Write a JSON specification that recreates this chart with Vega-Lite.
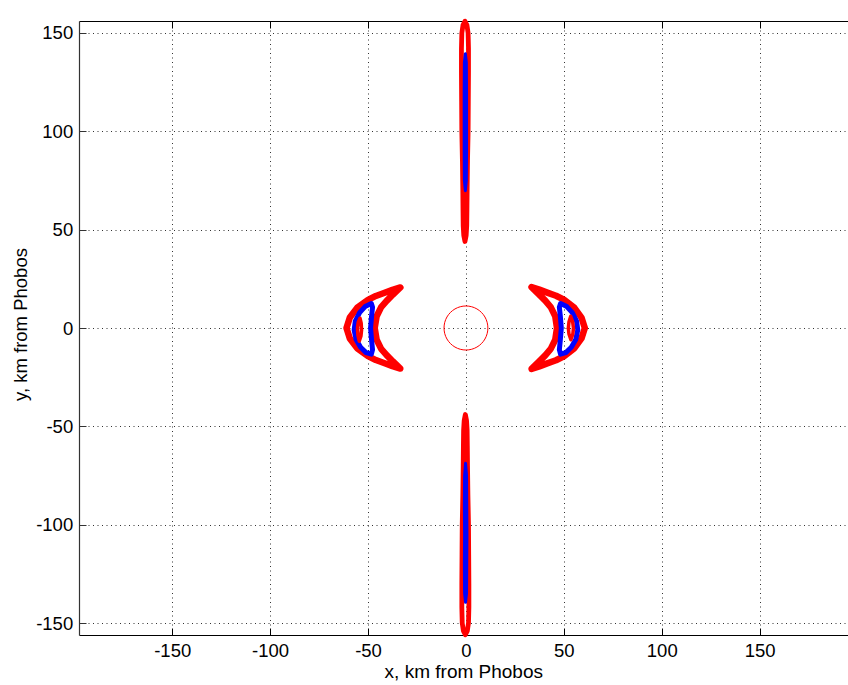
{
  "$schema": "https://vega.github.io/schema/vega-lite/v6.json",
  "width": 769,
  "height": 614,
  "autosize": {"type": "none"},
  "padding": {"left": 79, "top": 21, "right": 0, "bottom": 50},
  "background": "white",
  "config": {"view": {"stroke": null}, "font": "Liberation Sans"},
  "datasets": {
    "loops": [
      {"kind": "red-crescent", "loop": "redL", "i": 0, "x": -33.5, "y": 20.6},
      {"kind": "red-crescent", "loop": "redL", "i": 1, "x": -37.5, "y": 19.4},
      {"kind": "red-crescent", "loop": "redL", "i": 2, "x": -41.5, "y": 17.9},
      {"kind": "red-crescent", "loop": "redL", "i": 3, "x": -46, "y": 16.3},
      {"kind": "red-crescent", "loop": "redL", "i": 4, "x": -50, "y": 14.3},
      {"kind": "red-crescent", "loop": "redL", "i": 5, "x": -55.5, "y": 10.3},
      {"kind": "red-crescent", "loop": "redL", "i": 6, "x": -59.3, "y": 5.3},
      {"kind": "red-crescent", "loop": "redL", "i": 7, "x": -61, "y": 0},
      {"kind": "red-crescent", "loop": "redL", "i": 8, "x": -59.3, "y": -5.3},
      {"kind": "red-crescent", "loop": "redL", "i": 9, "x": -55.5, "y": -10.3},
      {"kind": "red-crescent", "loop": "redL", "i": 10, "x": -50, "y": -14.3},
      {"kind": "red-crescent", "loop": "redL", "i": 11, "x": -46, "y": -16.3},
      {"kind": "red-crescent", "loop": "redL", "i": 12, "x": -41.5, "y": -17.9},
      {"kind": "red-crescent", "loop": "redL", "i": 13, "x": -37.5, "y": -19.4},
      {"kind": "red-crescent", "loop": "redL", "i": 14, "x": -33.5, "y": -20.6},
      {"kind": "red-crescent", "loop": "redL", "i": 15, "x": -37.3, "y": -17},
      {"kind": "red-crescent", "loop": "redL", "i": 16, "x": -40.5, "y": -13.8},
      {"kind": "red-crescent", "loop": "redL", "i": 17, "x": -43.3, "y": -10.6},
      {"kind": "red-crescent", "loop": "redL", "i": 18, "x": -45.6, "y": -6},
      {"kind": "red-crescent", "loop": "redL", "i": 19, "x": -46.6, "y": 0},
      {"kind": "red-crescent", "loop": "redL", "i": 20, "x": -45.6, "y": 6},
      {"kind": "red-crescent", "loop": "redL", "i": 21, "x": -43.3, "y": 10.6},
      {"kind": "red-crescent", "loop": "redL", "i": 22, "x": -40.5, "y": 13.8},
      {"kind": "red-crescent", "loop": "redL", "i": 23, "x": -37.3, "y": 17},
      {"kind": "red-crescent", "loop": "redR", "i": 0, "x": 33.5, "y": 20.8},
      {"kind": "red-crescent", "loop": "redR", "i": 1, "x": 37.5, "y": 19.5},
      {"kind": "red-crescent", "loop": "redR", "i": 2, "x": 41.5, "y": 18},
      {"kind": "red-crescent", "loop": "redR", "i": 3, "x": 46, "y": 16.4},
      {"kind": "red-crescent", "loop": "redR", "i": 4, "x": 50, "y": 14.4},
      {"kind": "red-crescent", "loop": "redR", "i": 5, "x": 55.3, "y": 10.4},
      {"kind": "red-crescent", "loop": "redR", "i": 6, "x": 59, "y": 5.3},
      {"kind": "red-crescent", "loop": "redR", "i": 7, "x": 60.7, "y": 0},
      {"kind": "red-crescent", "loop": "redR", "i": 8, "x": 59, "y": -5.3},
      {"kind": "red-crescent", "loop": "redR", "i": 9, "x": 55.3, "y": -10.4},
      {"kind": "red-crescent", "loop": "redR", "i": 10, "x": 50, "y": -14.4},
      {"kind": "red-crescent", "loop": "redR", "i": 11, "x": 46, "y": -16.4},
      {"kind": "red-crescent", "loop": "redR", "i": 12, "x": 41.5, "y": -18},
      {"kind": "red-crescent", "loop": "redR", "i": 13, "x": 37.5, "y": -19.5},
      {"kind": "red-crescent", "loop": "redR", "i": 14, "x": 33.5, "y": -20.8},
      {"kind": "red-crescent", "loop": "redR", "i": 15, "x": 37.3, "y": -17.1},
      {"kind": "red-crescent", "loop": "redR", "i": 16, "x": 40.5, "y": -13.9},
      {"kind": "red-crescent", "loop": "redR", "i": 17, "x": 43.3, "y": -10.6},
      {"kind": "red-crescent", "loop": "redR", "i": 18, "x": 45.6, "y": -6},
      {"kind": "red-crescent", "loop": "redR", "i": 19, "x": 46.5, "y": 0},
      {"kind": "red-crescent", "loop": "redR", "i": 20, "x": 45.6, "y": 6},
      {"kind": "red-crescent", "loop": "redR", "i": 21, "x": 43.3, "y": 10.6},
      {"kind": "red-crescent", "loop": "redR", "i": 22, "x": 40.5, "y": 13.9},
      {"kind": "red-crescent", "loop": "redR", "i": 23, "x": 37.3, "y": 17.1},
      {"kind": "blue-crescent", "loop": "blueL", "i": 0, "x": -48.3, "y": 12.4},
      {"kind": "blue-crescent", "loop": "blueL", "i": 1, "x": -51.5, "y": 10.9},
      {"kind": "blue-crescent", "loop": "blueL", "i": 2, "x": -54.3, "y": 7.8},
      {"kind": "blue-crescent", "loop": "blueL", "i": 3, "x": -56.5, "y": 3.5},
      {"kind": "blue-crescent", "loop": "blueL", "i": 4, "x": -57.1, "y": -1},
      {"kind": "blue-crescent", "loop": "blueL", "i": 5, "x": -56.1, "y": -5.8},
      {"kind": "blue-crescent", "loop": "blueL", "i": 6, "x": -53.8, "y": -9.8},
      {"kind": "blue-crescent", "loop": "blueL", "i": 7, "x": -51, "y": -12.5},
      {"kind": "blue-crescent", "loop": "blueL", "i": 8, "x": -48.3, "y": -13.3},
      {"kind": "blue-crescent", "loop": "blueL", "i": 9, "x": -47.7, "y": -11},
      {"kind": "blue-crescent", "loop": "blueL", "i": 10, "x": -48.2, "y": -6},
      {"kind": "blue-crescent", "loop": "blueL", "i": 11, "x": -48.7, "y": 0},
      {"kind": "blue-crescent", "loop": "blueL", "i": 12, "x": -48.2, "y": 6},
      {"kind": "blue-crescent", "loop": "blueL", "i": 13, "x": -47.7, "y": 10.5},
      {"kind": "blue-crescent", "loop": "blueR", "i": 0, "x": 48.3, "y": 12.4},
      {"kind": "blue-crescent", "loop": "blueR", "i": 1, "x": 51.5, "y": 10.9},
      {"kind": "blue-crescent", "loop": "blueR", "i": 2, "x": 54.3, "y": 7.8},
      {"kind": "blue-crescent", "loop": "blueR", "i": 3, "x": 56.5, "y": 3.5},
      {"kind": "blue-crescent", "loop": "blueR", "i": 4, "x": 57.1, "y": -1},
      {"kind": "blue-crescent", "loop": "blueR", "i": 5, "x": 56.1, "y": -5.8},
      {"kind": "blue-crescent", "loop": "blueR", "i": 6, "x": 53.8, "y": -9.8},
      {"kind": "blue-crescent", "loop": "blueR", "i": 7, "x": 51, "y": -12.5},
      {"kind": "blue-crescent", "loop": "blueR", "i": 8, "x": 48.3, "y": -13.3},
      {"kind": "blue-crescent", "loop": "blueR", "i": 9, "x": 47.7, "y": -11},
      {"kind": "blue-crescent", "loop": "blueR", "i": 10, "x": 48.2, "y": -6},
      {"kind": "blue-crescent", "loop": "blueR", "i": 11, "x": 48.7, "y": 0},
      {"kind": "blue-crescent", "loop": "blueR", "i": 12, "x": 48.2, "y": 6},
      {"kind": "blue-crescent", "loop": "blueR", "i": 13, "x": 47.7, "y": 10.5},
      {"kind": "red-core", "loop": "coreL", "i": 0, "x": -54.1, "y": 5},
      {"kind": "red-core", "loop": "coreL", "i": 1, "x": -55, "y": 3},
      {"kind": "red-core", "loop": "coreL", "i": 2, "x": -55.4, "y": 0},
      {"kind": "red-core", "loop": "coreL", "i": 3, "x": -55.2, "y": -3.5},
      {"kind": "red-core", "loop": "coreL", "i": 4, "x": -54.5, "y": -6.7},
      {"kind": "red-core", "loop": "coreL", "i": 5, "x": -53.6, "y": -4},
      {"kind": "red-core", "loop": "coreL", "i": 6, "x": -53.3, "y": -1},
      {"kind": "red-core", "loop": "coreL", "i": 7, "x": -53.5, "y": 2.5},
      {"kind": "red-core", "loop": "coreR", "i": 0, "x": 53.5, "y": 6},
      {"kind": "red-core", "loop": "coreR", "i": 1, "x": 54.5, "y": 3},
      {"kind": "red-core", "loop": "coreR", "i": 2, "x": 54.9, "y": 0},
      {"kind": "red-core", "loop": "coreR", "i": 3, "x": 54.6, "y": -3},
      {"kind": "red-core", "loop": "coreR", "i": 4, "x": 53.6, "y": -6},
      {"kind": "red-core", "loop": "coreR", "i": 5, "x": 52.6, "y": -3},
      {"kind": "red-core", "loop": "coreR", "i": 6, "x": 52.3, "y": 0},
      {"kind": "red-core", "loop": "coreR", "i": 7, "x": 52.6, "y": 3},
      {"kind": "red-lobe", "loop": "lobeT", "i": 0, "x": -0.5, "y": 44},
      {"kind": "red-lobe", "loop": "lobeT", "i": 1, "x": 0.1, "y": 47},
      {"kind": "red-lobe", "loop": "lobeT", "i": 2, "x": 0.4, "y": 52},
      {"kind": "red-lobe", "loop": "lobeT", "i": 3, "x": 0.5, "y": 60},
      {"kind": "red-lobe", "loop": "lobeT", "i": 4, "x": 0.6, "y": 70},
      {"kind": "red-lobe", "loop": "lobeT", "i": 5, "x": 0.8, "y": 85},
      {"kind": "red-lobe", "loop": "lobeT", "i": 6, "x": 1.1, "y": 100},
      {"kind": "red-lobe", "loop": "lobeT", "i": 7, "x": 1.2, "y": 115},
      {"kind": "red-lobe", "loop": "lobeT", "i": 8, "x": 1.3, "y": 130},
      {"kind": "red-lobe", "loop": "lobeT", "i": 9, "x": 1.3, "y": 142},
      {"kind": "red-lobe", "loop": "lobeT", "i": 10, "x": 1.1, "y": 150},
      {"kind": "red-lobe", "loop": "lobeT", "i": 11, "x": 0.5, "y": 154},
      {"kind": "red-lobe", "loop": "lobeT", "i": 12, "x": -0.5, "y": 156},
      {"kind": "red-lobe", "loop": "lobeT", "i": 13, "x": -1.5, "y": 154},
      {"kind": "red-lobe", "loop": "lobeT", "i": 14, "x": -2.1, "y": 150},
      {"kind": "red-lobe", "loop": "lobeT", "i": 15, "x": -2.3, "y": 142},
      {"kind": "red-lobe", "loop": "lobeT", "i": 16, "x": -2.3, "y": 130},
      {"kind": "red-lobe", "loop": "lobeT", "i": 17, "x": -2.2, "y": 115},
      {"kind": "red-lobe", "loop": "lobeT", "i": 18, "x": -2.1, "y": 100},
      {"kind": "red-lobe", "loop": "lobeT", "i": 19, "x": -1.8, "y": 85},
      {"kind": "red-lobe", "loop": "lobeT", "i": 20, "x": -1.6, "y": 70},
      {"kind": "red-lobe", "loop": "lobeT", "i": 21, "x": -1.5, "y": 60},
      {"kind": "red-lobe", "loop": "lobeT", "i": 22, "x": -1.4, "y": 52},
      {"kind": "red-lobe", "loop": "lobeT", "i": 23, "x": -1.1, "y": 47},
      {"kind": "red-lobe", "loop": "lobeB", "i": 0, "x": -0.3, "y": -44},
      {"kind": "red-lobe", "loop": "lobeB", "i": 1, "x": 0.3, "y": -47},
      {"kind": "red-lobe", "loop": "lobeB", "i": 2, "x": 0.6, "y": -52},
      {"kind": "red-lobe", "loop": "lobeB", "i": 3, "x": 0.7, "y": -60},
      {"kind": "red-lobe", "loop": "lobeB", "i": 4, "x": 0.8, "y": -70},
      {"kind": "red-lobe", "loop": "lobeB", "i": 5, "x": 1.0, "y": -85},
      {"kind": "red-lobe", "loop": "lobeB", "i": 6, "x": 1.3, "y": -100},
      {"kind": "red-lobe", "loop": "lobeB", "i": 7, "x": 1.4, "y": -115},
      {"kind": "red-lobe", "loop": "lobeB", "i": 8, "x": 1.5, "y": -130},
      {"kind": "red-lobe", "loop": "lobeB", "i": 9, "x": 1.5, "y": -142},
      {"kind": "red-lobe", "loop": "lobeB", "i": 10, "x": 1.3, "y": -150},
      {"kind": "red-lobe", "loop": "lobeB", "i": 11, "x": 0.7, "y": -154},
      {"kind": "red-lobe", "loop": "lobeB", "i": 12, "x": -0.3, "y": -156},
      {"kind": "red-lobe", "loop": "lobeB", "i": 13, "x": -1.3, "y": -154},
      {"kind": "red-lobe", "loop": "lobeB", "i": 14, "x": -1.9, "y": -150},
      {"kind": "red-lobe", "loop": "lobeB", "i": 15, "x": -2.1, "y": -142},
      {"kind": "red-lobe", "loop": "lobeB", "i": 16, "x": -2.1, "y": -130},
      {"kind": "red-lobe", "loop": "lobeB", "i": 17, "x": -2.0, "y": -115},
      {"kind": "red-lobe", "loop": "lobeB", "i": 18, "x": -1.9, "y": -100},
      {"kind": "red-lobe", "loop": "lobeB", "i": 19, "x": -1.6, "y": -85},
      {"kind": "red-lobe", "loop": "lobeB", "i": 20, "x": -1.4, "y": -70},
      {"kind": "red-lobe", "loop": "lobeB", "i": 21, "x": -1.3, "y": -60},
      {"kind": "red-lobe", "loop": "lobeB", "i": 22, "x": -1.2, "y": -52},
      {"kind": "red-lobe", "loop": "lobeB", "i": 23, "x": -0.9, "y": -47},
      {"kind": "blue-lobe", "loop": "bluelobeT", "i": 0, "x": -0.3, "y": 69.8},
      {"kind": "blue-lobe", "loop": "bluelobeT", "i": 1, "x": 0.2, "y": 75},
      {"kind": "blue-lobe", "loop": "bluelobeT", "i": 2, "x": 0.3, "y": 90},
      {"kind": "blue-lobe", "loop": "bluelobeT", "i": 3, "x": 0.3, "y": 105},
      {"kind": "blue-lobe", "loop": "bluelobeT", "i": 4, "x": 0.3, "y": 120},
      {"kind": "blue-lobe", "loop": "bluelobeT", "i": 5, "x": 0.2, "y": 135},
      {"kind": "blue-lobe", "loop": "bluelobeT", "i": 6, "x": -0.3, "y": 139.5},
      {"kind": "blue-lobe", "loop": "bluelobeT", "i": 7, "x": -0.8, "y": 135},
      {"kind": "blue-lobe", "loop": "bluelobeT", "i": 8, "x": -0.9, "y": 120},
      {"kind": "blue-lobe", "loop": "bluelobeT", "i": 9, "x": -0.9, "y": 105},
      {"kind": "blue-lobe", "loop": "bluelobeT", "i": 10, "x": -0.9, "y": 90},
      {"kind": "blue-lobe", "loop": "bluelobeT", "i": 11, "x": -0.8, "y": 75},
      {"kind": "blue-lobe", "loop": "bluelobeB", "i": 0, "x": -0.2, "y": -68.8},
      {"kind": "blue-lobe", "loop": "bluelobeB", "i": 1, "x": 0.3, "y": -75},
      {"kind": "blue-lobe", "loop": "bluelobeB", "i": 2, "x": 0.4, "y": -90},
      {"kind": "blue-lobe", "loop": "bluelobeB", "i": 3, "x": 0.5, "y": -105},
      {"kind": "blue-lobe", "loop": "bluelobeB", "i": 4, "x": 0.4, "y": -120},
      {"kind": "blue-lobe", "loop": "bluelobeB", "i": 5, "x": 0.3, "y": -135},
      {"kind": "blue-lobe", "loop": "bluelobeB", "i": 6, "x": -0.2, "y": -139.5},
      {"kind": "blue-lobe", "loop": "bluelobeB", "i": 7, "x": -0.7, "y": -135},
      {"kind": "blue-lobe", "loop": "bluelobeB", "i": 8, "x": -0.8, "y": -120},
      {"kind": "blue-lobe", "loop": "bluelobeB", "i": 9, "x": -0.7, "y": -105},
      {"kind": "blue-lobe", "loop": "bluelobeB", "i": 10, "x": -0.8, "y": -90},
      {"kind": "blue-lobe", "loop": "bluelobeB", "i": 11, "x": -0.7, "y": -75},
      {"kind": "phobos", "loop": "circle", "i": 0, "x": 11.2, "y": 0},
      {"kind": "phobos", "loop": "circle", "i": 1, "x": 10.82, "y": 2.9},
      {"kind": "phobos", "loop": "circle", "i": 2, "x": 9.7, "y": 5.6},
      {"kind": "phobos", "loop": "circle", "i": 3, "x": 7.92, "y": 7.92},
      {"kind": "phobos", "loop": "circle", "i": 4, "x": 5.6, "y": 9.7},
      {"kind": "phobos", "loop": "circle", "i": 5, "x": 2.9, "y": 10.82},
      {"kind": "phobos", "loop": "circle", "i": 6, "x": 0, "y": 11.2},
      {"kind": "phobos", "loop": "circle", "i": 7, "x": -2.9, "y": 10.82},
      {"kind": "phobos", "loop": "circle", "i": 8, "x": -5.6, "y": 9.7},
      {"kind": "phobos", "loop": "circle", "i": 9, "x": -7.92, "y": 7.92},
      {"kind": "phobos", "loop": "circle", "i": 10, "x": -9.7, "y": 5.6},
      {"kind": "phobos", "loop": "circle", "i": 11, "x": -10.82, "y": 2.9},
      {"kind": "phobos", "loop": "circle", "i": 12, "x": -11.2, "y": 0},
      {"kind": "phobos", "loop": "circle", "i": 13, "x": -10.82, "y": -2.9},
      {"kind": "phobos", "loop": "circle", "i": 14, "x": -9.7, "y": -5.6},
      {"kind": "phobos", "loop": "circle", "i": 15, "x": -7.92, "y": -7.92},
      {"kind": "phobos", "loop": "circle", "i": 16, "x": -5.6, "y": -9.7},
      {"kind": "phobos", "loop": "circle", "i": 17, "x": -2.9, "y": -10.82},
      {"kind": "phobos", "loop": "circle", "i": 18, "x": 0, "y": -11.2},
      {"kind": "phobos", "loop": "circle", "i": 19, "x": 2.9, "y": -10.82},
      {"kind": "phobos", "loop": "circle", "i": 20, "x": 5.6, "y": -9.7},
      {"kind": "phobos", "loop": "circle", "i": 21, "x": 7.92, "y": -7.92},
      {"kind": "phobos", "loop": "circle", "i": 22, "x": 9.7, "y": -5.6},
      {"kind": "phobos", "loop": "circle", "i": 23, "x": 10.82, "y": -2.9}
    ]
  },
  "data": {"name": "loops"},
  "resolve": {"axis": {"x": "independent"}},
  "layer": [
    {
      "transform": [{"filter": "datum.kind === 'red-crescent'"}],
      "mark": {"type": "line", "interpolate": "linear-closed", "color": "#ff0000", "strokeWidth": 6.5, "strokeJoin": "round", "strokeCap": "round"},
      "encoding": {
        "x": {
          "field": "x", "type": "quantitative",
          "scale": {"domain": [-197.6, 195.1], "nice": false, "zero": false},
          "axis": {
            "orient": "bottom",
            "values": [-150, -100, -50, 0, 50, 100, 150],
            "labelExpr": "datum.value < 0 ? '-' + abs(datum.value) : '' + datum.value",
            "grid": true, "gridColor": "#000000", "gridDash": [1, 3.5], "gridWidth": 1, "gridOpacity": 0.8,
            "domainColor": "#000000", "domainWidth": 1.2,
            "tickColor": "#000000", "tickSize": -7, "tickWidth": 1,
            "labelFont": "Liberation Sans", "labelFontSize": 18.5, "labelColor": "#000000",
            "labelPadding": 28.7, "labelBaseline": "alphabetic", "labelFlush": false,
            "title": "x, km from Phobos", "titleFont": "Liberation Sans", "titleFontSize": 19,
            "titleFontWeight": "normal", "titleColor": "#000000",
            "titleX": 384.3, "titleY": 42, "titleBaseline": "alphabetic", "titleAlign": "center"
          }
        },
        "y": {
          "field": "y", "type": "quantitative",
          "scale": {"domain": [-156.1, 156.1], "nice": false, "zero": false},
          "axis": {
            "orient": "left",
            "values": [-150, -100, -50, 0, 50, 100, 150],
            "labelExpr": "datum.value < 0 ? '-' + abs(datum.value) : '' + datum.value",
            "grid": true, "gridColor": "#000000", "gridDash": [1, 3.5], "gridWidth": 1, "gridOpacity": 0.8,
            "domainColor": "#333333", "domainWidth": 1.2,
            "tickColor": "#333333", "tickSize": -7, "tickWidth": 1,
            "labelFont": "Liberation Sans", "labelFontSize": 18.5, "labelColor": "#000000",
            "labelPadding": 13.3, "labelBaseline": "middle", "labelFlush": false,
            "title": "y, km from Phobos", "titleFont": "Liberation Sans", "titleFontSize": 18.5,
            "titleFontWeight": "normal", "titleColor": "#000000",
            "titleX": -53, "titleY": 303, "titleAngle": 270, "titleBaseline": "alphabetic", "titleAlign": "center"
          }
        },
        "detail": {"field": "loop"},
        "order": {"field": "i", "type": "quantitative"}
      }
    },
    {
      "transform": [{"filter": "datum.kind === 'blue-crescent'"}],
      "mark": {"type": "line", "interpolate": "linear-closed", "color": "#0000ff", "strokeWidth": 5, "strokeJoin": "round", "strokeCap": "round"},
      "encoding": {
        "x": {
          "field": "x", "type": "quantitative",
          "axis": {
            "orient": "top",
            "values": [-150, -100, -50, 0, 50, 100, 150],
            "grid": false, "labels": false, "title": null,
            "domainColor": "#000000", "domainWidth": 1.2,
            "tickColor": "#000000", "tickSize": -7, "tickWidth": 1
          }
        },
        "y": {"field": "y", "type": "quantitative"},
        "detail": {"field": "loop"},
        "order": {"field": "i", "type": "quantitative"}
      }
    },
    {
      "transform": [{"filter": "datum.kind === 'red-core'"}],
      "mark": {"type": "line", "interpolate": "linear-closed", "color": "#ff0000", "strokeWidth": 3.5, "strokeJoin": "round", "strokeCap": "round"},
      "encoding": {
        "x": {"field": "x", "type": "quantitative", "axis": null},
        "y": {"field": "y", "type": "quantitative"},
        "detail": {"field": "loop"},
        "order": {"field": "i", "type": "quantitative"}
      }
    },
    {
      "transform": [{"filter": "datum.kind === 'red-lobe'"}],
      "mark": {"type": "line", "interpolate": "linear-closed", "color": "#ff0000", "strokeWidth": 4.8, "strokeJoin": "round", "strokeCap": "round"},
      "encoding": {
        "x": {"field": "x", "type": "quantitative", "axis": null},
        "y": {"field": "y", "type": "quantitative"},
        "detail": {"field": "loop"},
        "order": {"field": "i", "type": "quantitative"}
      }
    },
    {
      "transform": [{"filter": "datum.kind === 'blue-lobe'"}],
      "mark": {"type": "line", "interpolate": "linear-closed", "color": "#0000ff", "strokeWidth": 3, "strokeJoin": "round", "strokeCap": "round"},
      "encoding": {
        "x": {"field": "x", "type": "quantitative", "axis": null},
        "y": {"field": "y", "type": "quantitative"},
        "detail": {"field": "loop"},
        "order": {"field": "i", "type": "quantitative"}
      }
    },
    {
      "transform": [{"filter": "datum.kind === 'phobos'"}],
      "mark": {"type": "line", "interpolate": "cardinal-closed", "color": "#ff0000", "strokeWidth": 1},
      "encoding": {
        "x": {"field": "x", "type": "quantitative", "axis": null},
        "y": {"field": "y", "type": "quantitative"},
        "detail": {"field": "loop"},
        "order": {"field": "i", "type": "quantitative"}
      }
    }
  ]
}
